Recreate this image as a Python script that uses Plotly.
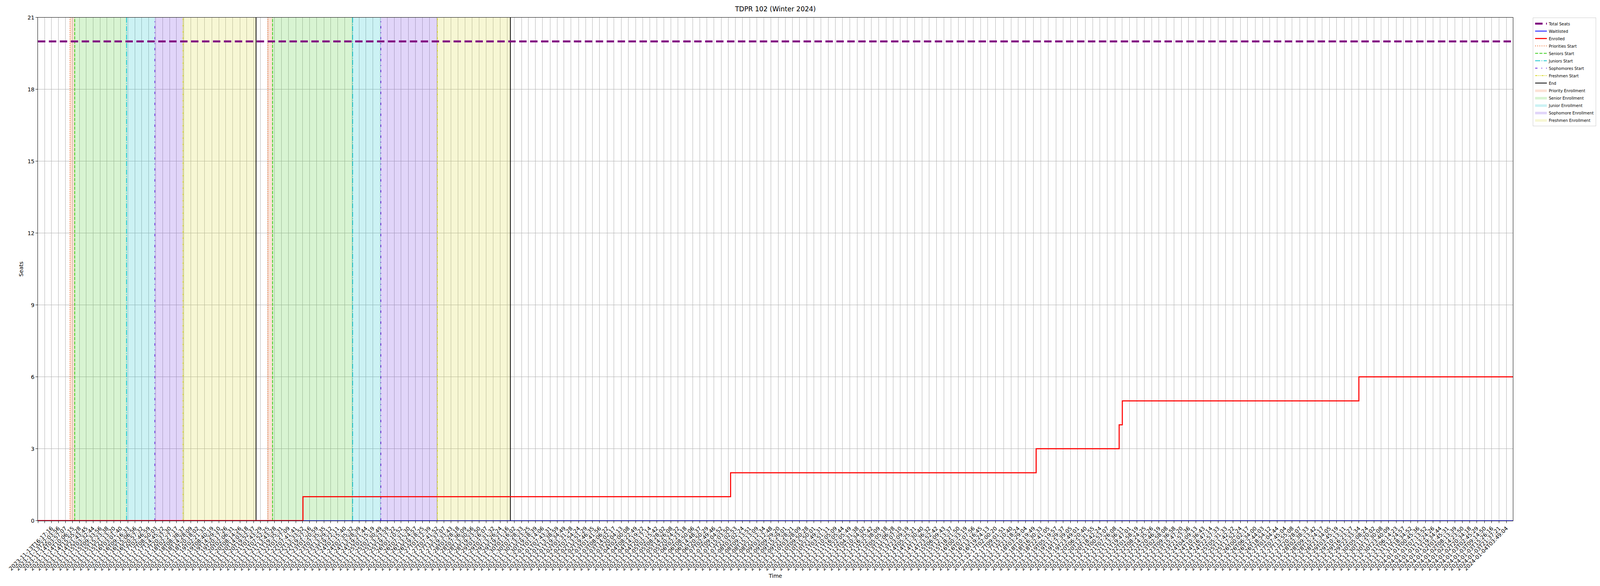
import plotly.graph_objects as go

## Dados do gráfico
tick_labels = [
    "2023-11-13T04:45:29", "2023-11-13T10:30:51", "2023-11-13T16:17:16", "2023-11-13T22:03:56",
    "2023-11-14T03:57:07", "2023-11-14T10:06:15", "2023-11-14T15:55:28", "2023-11-14T21:43:45",
    "2023-11-15T03:32:44", "2023-11-15T09:33:56", "2023-11-15T15:23:38", "2023-11-15T21:13:20",
    "2023-11-16T03:01:40", "2023-11-16T09:16:33", "2023-11-16T15:06:56", "2023-11-16T20:57:32",
    "2023-11-17T02:46:59", "2023-11-17T08:50:03", "2023-11-17T14:45:22", "2023-11-17T20:37:30",
    "2023-11-18T02:27:17", "2023-11-18T08:38:37", "2023-11-18T14:28:09", "2023-11-18T20:18:02",
    "2023-11-19T02:21:33", "2023-11-19T08:40:19", "2023-11-19T14:29:10", "2023-11-19T20:17:26",
    "2023-11-20T02:06:31", "2023-11-20T08:14:26", "2023-11-20T14:03:18", "2023-11-20T19:52:37",
    "2023-11-21T01:43:29", "2023-11-21T07:52:25", "2023-11-21T13:43:28", "2023-11-21T19:35:31",
    "2023-11-22T01:27:09", "2023-11-22T07:41:41", "2023-11-22T13:33:52", "2023-11-22T19:27:16",
    "2023-11-23T01:20:59", "2023-11-23T07:35:35", "2023-11-23T13:29:12", "2023-11-23T19:22:11",
    "2023-11-24T01:15:40", "2023-11-24T07:35:32", "2023-11-24T13:28:39", "2023-11-24T19:21:44",
    "2023-11-25T01:15:19", "2023-11-25T07:30:49", "2023-11-25T13:23:59", "2023-11-25T19:17:22",
    "2023-11-26T01:10:52", "2023-11-26T07:31:30", "2023-11-26T13:24:57", "2023-11-26T19:18:25",
    "2023-11-27T01:12:39", "2023-11-27T07:41:52", "2023-11-27T13:37:07", "2023-11-27T19:33:43",
    "2023-11-28T01:28:18", "2023-11-28T07:36:09", "2023-11-28T13:30:56", "2023-11-28T19:23:50",
    "2023-11-29T01:16:07", "2023-11-29T07:31:32", "2023-11-29T13:26:24", "2023-11-29T19:21:16",
    "2023-11-30T01:16:02", "2023-11-30T07:28:33", "2023-11-30T13:23:25", "2023-11-30T19:18:39",
    "2023-12-01T01:14:06", "2023-12-01T07:43:31", "2023-12-01T13:38:59", "2023-12-01T19:34:49",
    "2023-12-02T01:31:28", "2023-12-02T07:54:24", "2023-12-02T13:51:29", "2023-12-02T19:46:35",
    "2023-12-03T01:41:56", "2023-12-03T08:06:22", "2023-12-03T14:02:17", "2023-12-03T20:04:13",
    "2023-12-04T02:00:08", "2023-12-04T08:22:49", "2023-12-04T14:19:22", "2023-12-04T20:17:14",
    "2023-12-05T02:15:42", "2023-12-05T08:28:02", "2023-12-05T14:26:08", "2023-12-05T20:24:22",
    "2023-12-06T02:23:18", "2023-12-06T08:50:06", "2023-12-06T14:48:37", "2023-12-06T20:50:29",
    "2023-12-07T02:49:46", "2023-12-07T09:04:52", "2023-12-07T15:03:50", "2023-12-07T21:02:53",
    "2023-12-08T03:02:24", "2023-12-08T09:13:51", "2023-12-08T15:13:09", "2023-12-08T21:12:34",
    "2023-12-09T03:12:48", "2023-12-09T09:29:20", "2023-12-09T15:29:01", "2023-12-09T21:28:21",
    "2023-12-10T03:28:09", "2023-12-10T09:50:28", "2023-12-10T15:50:01", "2023-12-10T21:49:31",
    "2023-12-11T03:51:11", "2023-12-11T10:05:09", "2023-12-11T16:05:44", "2023-12-11T22:05:49",
    "2023-12-12T04:31:38", "2023-12-12T10:34:02", "2023-12-12T16:35:42", "2023-12-12T22:38:09",
    "2023-12-13T05:05:18", "2023-12-13T11:06:28", "2023-12-13T17:07:10", "2023-12-13T23:09:19",
    "2023-12-14T05:25:21", "2023-12-14T11:30:40", "2023-12-14T17:36:32", "2023-12-14T23:52:42",
    "2023-12-15T06:09:43", "2023-12-15T12:13:37", "2023-12-15T18:21:50", "2023-12-16T00:33:19",
    "2023-12-16T07:07:56", "2023-12-16T13:16:45", "2023-12-16T19:24:13", "2023-12-17T02:00:20",
    "2023-12-17T09:01:51", "2023-12-17T15:10:40", "2023-12-17T21:18:24", "2023-12-18T03:29:04",
    "2023-12-18T10:19:49", "2023-12-18T16:30:33", "2023-12-18T22:41:05", "2023-12-19T05:19:57",
    "2023-12-19T11:29:37", "2023-12-19T17:39:05", "2023-12-19T23:49:01", "2023-12-20T06:20:40",
    "2023-12-20T12:31:55", "2023-12-20T18:42:24", "2023-12-21T00:53:07", "2023-12-21T07:26:08",
    "2023-12-21T13:36:11", "2023-12-21T19:47:01", "2023-12-22T01:58:19", "2023-12-22T08:24:25",
    "2023-12-22T14:35:26", "2023-12-22T20:46:19", "2023-12-23T02:58:08", "2023-12-23T09:36:58",
    "2023-12-23T15:47:20", "2023-12-23T21:57:36", "2023-12-24T04:09:13", "2023-12-24T10:36:43",
    "2023-12-24T16:47:14", "2023-12-24T22:57:33", "2023-12-25T05:31:33", "2023-12-25T11:42:22",
    "2023-12-25T17:52:24", "2023-12-26T00:02:17", "2023-12-26T06:34:00", "2023-12-26T12:44:03",
    "2023-12-26T18:54:12", "2023-12-27T01:04:44", "2023-12-27T07:45:04", "2023-12-27T13:55:08",
    "2023-12-27T20:28:07", "2023-12-28T02:38:33", "2023-12-28T09:13:42", "2023-12-28T15:24:17",
    "2023-12-28T21:34:05", "2023-12-29T03:45:19", "2023-12-29T10:13:11", "2023-12-29T16:23:27",
    "2023-12-29T22:33:34", "2023-12-30T05:08:24", "2023-12-30T11:20:02", "2023-12-30T17:30:08",
    "2023-12-30T23:40:09", "2023-12-31T06:14:23", "2023-12-31T12:24:57", "2023-12-31T18:34:52",
    "2024-01-01T00:45:36", "2024-01-01T07:13:52", "2024-01-01T13:24:26", "2024-01-01T19:34:44",
    "2024-01-02T01:45:31", "2024-01-02T08:13:39", "2024-01-02T14:23:50", "2024-01-02T20:34:18",
    "2024-01-03T02:45:29", "2024-01-03T09:14:50", "2024-01-03T15:26:16", "2024-01-03T21:37:21",
    "2024-01-04T03:49:04",
]

first_time = "2023-11-13 04:45:29"
last_time = "2024-01-04 09:25:00"

# inscritos (mudanças de valor)
enrolled_times = [
    first_time, "2023-11-22 13:50:00", "2023-12-07 17:00:00", "2023-12-18 12:30:00",
    "2023-12-21 11:00:00", "2023-12-21 13:40:00", "2023-12-29 22:35:00", last_time,
]
enrolled_counts = [0, 1, 2, 3, 4, 5, 6, 6]

waitlist_times = [first_time, last_time]
waitlist_counts = [0, 0]

seat_times = [first_time, last_time]
seat_counts = [20, 20]

# fases de inscrição (duas passagens)
priority_starts = ["2023-11-14 08:00:00", "2023-11-21 08:00:00"]
senior_starts = ["2023-11-14 12:00:00", "2023-11-21 12:00:00"]
junior_starts = ["2023-11-16 08:00:00", "2023-11-24 08:00:00"]
sophomore_starts = ["2023-11-17 08:00:00", "2023-11-25 08:00:00"]
freshmen_starts = ["2023-11-18 08:00:00", "2023-11-27 08:00:00"]
end_times = ["2023-11-20 22:00:00", "2023-11-29 22:00:00"]

y_max = 21

fig = go.Figure()

## Faixas coloridas
spans = [
    ("Priority Enrollment", priority_starts, senior_starts, "rgba(238,108,46,0.2)", 10),
    ("Senior Enrollment", senior_starts, junior_starts, "rgba(60,200,30,0.2)", 11),
    ("Junior Enrollment", junior_starts, sophomore_starts, "rgba(0,190,200,0.2)", 12),
    ("Sophomore Enrollment", sophomore_starts, freshmen_starts, "rgba(106,43,224,0.2)", 13),
    ("Freshmen Enrollment", freshmen_starts, end_times, "rgba(216,216,40,0.2)", 14),
]
for name, starts, stops, color, rank in spans:
    for i, (a, b) in enumerate(zip(starts, stops)):
        fig.add_trace(go.Scatter(
            x=[a, a, b, b, a], y=[0, y_max, y_max, 0, 0],
            mode="lines", fill="toself", fillcolor=color,
            line=dict(color=color, width=0.5),
            name=name, legendgroup=name, showlegend=(i == 0),
            legendrank=rank, hoverinfo="skip",
        ))

## Linhas verticais
vlines = [
    ("Priorities Start", priority_starts, "#ee6c2e", "2px,3.5px", 4),
    ("Seniors Start", senior_starts, "#3acd1a", "7.7px,3.3px", 5),
    ("Juniors Start", junior_starts, "#12c4cc", "13px,3.3px,2px,3.3px", 6),
    ("Sophomores Start", sophomore_starts, "#6a2be0", "6px,10px,2px,10px", 7),
    ("Freshmen Start", freshmen_starts, "#d8d82a", "6px,2px,2px,2px,2px,2px", 8),
    ("End", end_times, "black", "solid", 9),
]
for name, times, color, dash, rank in vlines:
    for i, t in enumerate(times):
        fig.add_trace(go.Scatter(
            x=[t, t], y=[0, y_max], mode="lines",
            line=dict(color=color, width=2, dash=dash),
            name=name, legendgroup=name, showlegend=(i == 0),
            legendrank=rank, hoverinfo="skip",
        ))

## Séries
fig.add_trace(go.Scatter(
    x=seat_times, y=seat_counts, mode="lines", name="Total Seats",
    line=dict(color="purple", width=5, dash="19px,9px"), legendrank=1,
))
fig.add_trace(go.Scatter(
    x=waitlist_times, y=waitlist_counts, mode="lines", name="Waitlisted",
    line=dict(color="blue", width=2, shape="hv"), legendrank=2,
))
fig.add_trace(go.Scatter(
    x=enrolled_times, y=enrolled_counts, mode="lines", name="Enrolled",
    line=dict(color="red", width=2.7, shape="hv"), legendrank=3,
))

#Layout geral: tamanho segue a janela, posições em fração da figura
fig.update_layout(
    template="none",
    autosize=True,
    margin=dict(l=0, r=0, t=0, b=0, pad=0),
    paper_bgcolor="white",
    plot_bgcolor="white",
    font=dict(family="DejaVu Sans", size=14, color="black"),
    title=dict(text="TDPR 102 (Winter 2024)", x=(131 + 5684) / 2 / 6000, xref="paper",
               xanchor="center", y=0.99, yref="container", yanchor="middle",
               font=dict(size=17)),
    legend=dict(x=0.9995, y=0.975, xanchor="right", yanchor="top",
                bgcolor="white", bordercolor="#cccccc", borderwidth=1,
                font=dict(size=10), itemwidth=30, tracegroupgap=0),
    showlegend=True,
)

#Eixos
fig.update_xaxes(
    domain=[131 / 6000, 5684 / 6000],
    type="date",
    range=[first_time, last_time],
    tickvals=[s.replace("T", " ") for s in tick_labels],
    ticktext=tick_labels,
    tickangle=-45,
    tickfont=dict(size=14),
    showgrid=True, gridcolor="#b0b0b0", gridwidth=1,
    showline=True, linecolor="black", linewidth=1.1, mirror=True,
    ticks="outside", ticklen=5, tickcolor="black", tickwidth=1.1,
    zeroline=False,
    title=dict(text="Time", font=dict(size=14)),
    automargin=False,
)
fig.update_yaxes(
    domain=[1 - 1339 / 1500, 1 - 37 / 1500],
    range=[0, y_max],
    tick0=0, dtick=3,
    tickfont=dict(size=14),
    showgrid=True, gridcolor="#b0b0b0", gridwidth=1,
    showline=True, linecolor="black", linewidth=1.1, mirror=True,
    ticks="outside", ticklen=5, tickcolor="black", tickwidth=1.1,
    zeroline=False,
    title=dict(text="Seats", font=dict(size=14)),
    automargin=False,
)

fig.write_html("out.html", default_width="calc(100vw - 16px)",
               default_height="calc(100vh - 16px)")
